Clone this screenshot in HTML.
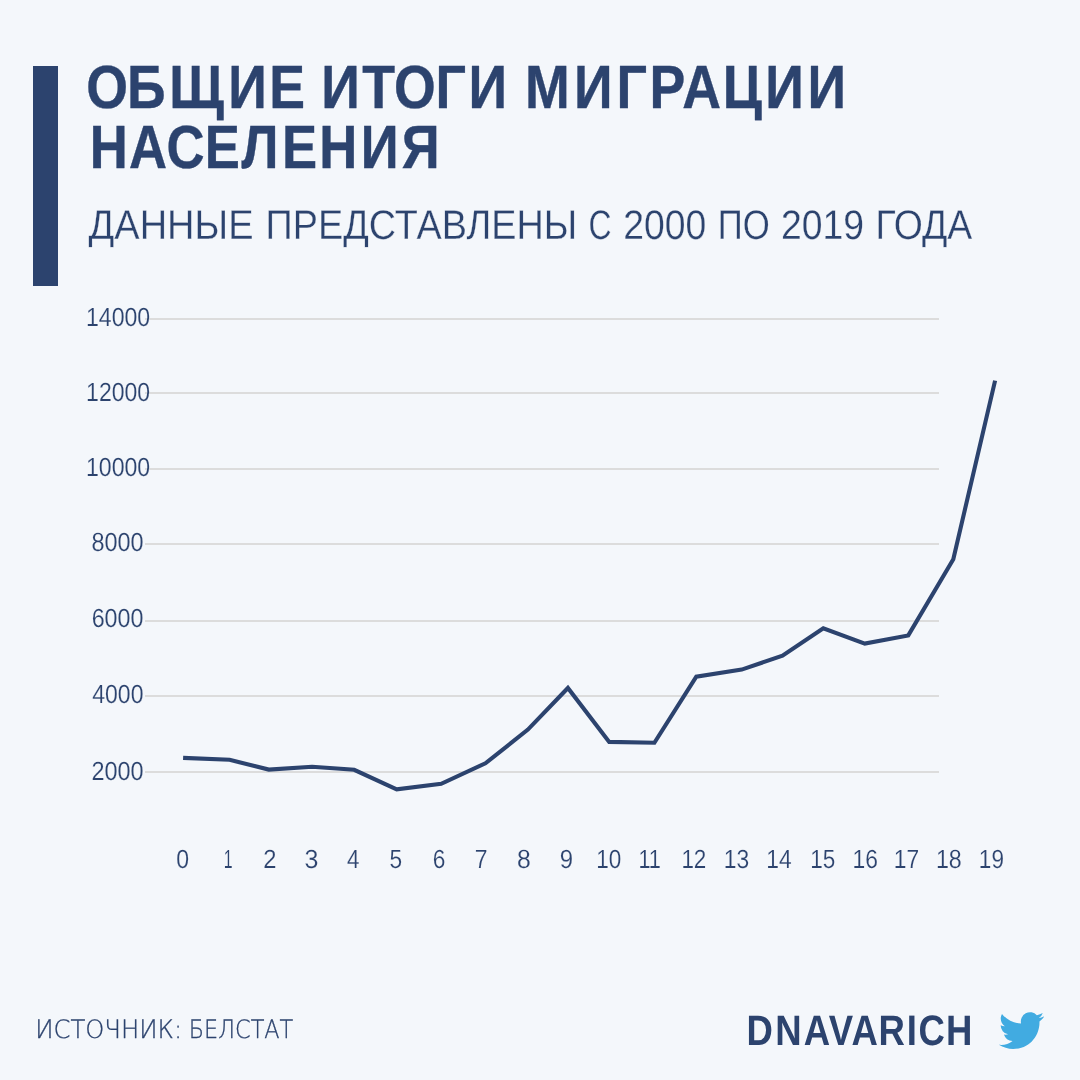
<!DOCTYPE html>
<html lang="ru">
<head>
<meta charset="utf-8">
<title>Общие итоги миграции населения</title>
<style>
  html, body { margin:0; padding:0; background:#f4f7fb; }
  body { width:1080px; height:1080px; overflow:hidden; }
  svg { display:block; will-change:transform; }
  text { font-family:"Liberation Sans", sans-serif; fill:#2c436e; text-rendering:geometricPrecision; }
  .t1 { font-weight:700; font-size:61.0px; stroke:#2c436e; stroke-width:0.4px; }
  .t2 { font-weight:400; font-size:41.3px; stroke:#f4f7fb; stroke-width:0.3px; }
  .ax { font-weight:400; font-size:26.3px; stroke:#f4f7fb; stroke-width:0.15px; }
  .src { font-family:"DejaVu Sans", "Liberation Sans", sans-serif; font-weight:200; font-size:25.4px; stroke:#2c436e; stroke-width:0.3px; }
  .brand { font-weight:700; font-size:42.7px; }
</style>
</head>
<body>
<svg width="1080" height="1080" viewBox="0 0 1080 1080">
  <rect x="0" y="0" width="1080" height="1080" fill="#f4f7fb"/>
  <rect x="33" y="66" width="25" height="220" fill="#2c436e"/>
  <text class="t1" y="108" transform="scale(0.8794,1)"><tspan x="98.21 144.40 192.37 259.65 306.08">ОБЩИЕ</tspan> <tspan x="365.24 411.94 448.00 495.15 532.80">ИТОГИ</tspan> <tspan x="597.13 652.65 701.20 738.62 775.68 821.83 870.14 918.12">МИГРАЦИИ</tspan></text>
  <text class="t1" y="168" transform="scale(0.8635,1)"><tspan x="103.94 149.54 192.86 237.19 279.73 326.48 369.73 417.78 465.38">НАСЕЛЕНИЯ</tspan></text>
  <text class="t2" y="238.9"><tspan x="88.58" textLength="164.95" lengthAdjust="spacingAndGlyphs">ДАННЫЕ</tspan> <tspan x="265.57" textLength="311.76" lengthAdjust="spacingAndGlyphs">ПРЕДСТАВЛЕНЫ</tspan> <tspan x="588.59" textLength="23.05" lengthAdjust="spacingAndGlyphs">С</tspan> <tspan x="623.27" textLength="82.97" lengthAdjust="spacingAndGlyphs">2000</tspan> <tspan x="717.71" textLength="52.06" lengthAdjust="spacingAndGlyphs">ПО</tspan> <tspan x="780.94" textLength="83.08" lengthAdjust="spacingAndGlyphs">2019</tspan> <tspan x="875.61" textLength="96.72" lengthAdjust="spacingAndGlyphs">ГОДА</tspan></text>
  <rect x="145" y="318" width="794" height="2" fill="#dcdcdc"/>
  <rect x="145" y="392" width="794" height="2" fill="#dcdcdc"/>
  <rect x="145" y="468" width="794" height="2" fill="#dcdcdc"/>
  <rect x="145" y="543" width="794" height="2" fill="#dcdcdc"/>
  <rect x="145" y="620" width="794" height="2" fill="#dcdcdc"/>
  <rect x="145" y="695" width="794" height="2" fill="#dcdcdc"/>
  <rect x="145" y="771" width="794" height="2" fill="#dcdcdc"/>
  <text class="ax" x="86.00" y="326.1" textLength="64.20" lengthAdjust="spacingAndGlyphs">14000</text>
  <text class="ax" x="86.11" y="400.8" textLength="64.02" lengthAdjust="spacingAndGlyphs">12000</text>
  <text class="ax" x="86.00" y="475.9" textLength="64.20" lengthAdjust="spacingAndGlyphs">10000</text>
  <text class="ax" x="91.45" y="551.1" textLength="52.15" lengthAdjust="spacingAndGlyphs">8000</text>
  <text class="ax" x="91.64" y="627.1" textLength="51.76" lengthAdjust="spacingAndGlyphs">6000</text>
  <text class="ax" x="92.28" y="703.1" textLength="51.17" lengthAdjust="spacingAndGlyphs">4000</text>
  <text class="ax" x="91.50" y="779.6" textLength="52.17" lengthAdjust="spacingAndGlyphs">2000</text>
  <text class="ax" x="176.37" y="868.3" textLength="12.83" lengthAdjust="spacingAndGlyphs">0</text>
  <text class="ax" x="223.63" y="868.3" textLength="8.83" lengthAdjust="spacingAndGlyphs">1</text>
  <text class="ax" x="263.19" y="868.3" textLength="13.22" lengthAdjust="spacingAndGlyphs">2</text>
  <text class="ax" x="304.46" y="868.3" textLength="13.93" lengthAdjust="spacingAndGlyphs">3</text>
  <text class="ax" x="346.89" y="868.3" textLength="12.40" lengthAdjust="spacingAndGlyphs">4</text>
  <text class="ax" x="389.53" y="868.3" textLength="12.64" lengthAdjust="spacingAndGlyphs">5</text>
  <text class="ax" x="432.80" y="868.3" textLength="12.63" lengthAdjust="spacingAndGlyphs">6</text>
  <text class="ax" x="474.84" y="868.3" textLength="12.78" lengthAdjust="spacingAndGlyphs">7</text>
  <text class="ax" x="516.96" y="868.3" textLength="13.78" lengthAdjust="spacingAndGlyphs">8</text>
  <text class="ax" x="559.78" y="868.3" textLength="13.34" lengthAdjust="spacingAndGlyphs">9</text>
  <text class="ax" x="596.17" y="868.3" textLength="25.03" lengthAdjust="spacingAndGlyphs">10</text>
  <text class="ax" x="638.42" y="868.3" textLength="22.49" lengthAdjust="spacingAndGlyphs">11</text>
  <text class="ax" x="681.40" y="868.3" textLength="24.94" lengthAdjust="spacingAndGlyphs">12</text>
  <text class="ax" x="723.83" y="868.3" textLength="25.43" lengthAdjust="spacingAndGlyphs">13</text>
  <text class="ax" x="766.32" y="868.3" textLength="25.42" lengthAdjust="spacingAndGlyphs">14</text>
  <text class="ax" x="810.32" y="868.3" textLength="25.05" lengthAdjust="spacingAndGlyphs">15</text>
  <text class="ax" x="852.49" y="868.3" textLength="25.45" lengthAdjust="spacingAndGlyphs">16</text>
  <text class="ax" x="893.79" y="868.3" textLength="25.38" lengthAdjust="spacingAndGlyphs">17</text>
  <text class="ax" x="935.96" y="868.3" textLength="25.83" lengthAdjust="spacingAndGlyphs">18</text>
  <text class="ax" x="978.85" y="868.3" textLength="25.12" lengthAdjust="spacingAndGlyphs">19</text>
  <polyline points="183.1,757.9 229.6,759.8 268.8,769.6 312.1,766.8 354.2,769.8 396.7,789.3 441.2,783.8 485.4,763.3 527.9,729.6 567.9,688.0 609.2,741.9 654.4,742.8 696.3,676.7 741.7,669.6 782.5,655.7 823.3,628.3 864.8,643.6 908.3,635.4 953.3,559.2 995.1,380.6" fill="none" stroke="#2c436e" stroke-width="4.1" stroke-linejoin="miter" stroke-linecap="butt"/>
  <text class="src" y="1037.8"><tspan x="35.21" textLength="146.88" lengthAdjust="spacingAndGlyphs">ИСТОЧНИК:</tspan> <tspan x="188.72" textLength="104.57" lengthAdjust="spacingAndGlyphs">БЕЛСТАТ</tspan></text>
  <text class="brand" y="1045" transform="scale(0.8552,1)"><tspan x="873.03 906.55 939.90 968.99 995.73 1027.22 1060.20 1074.05 1106.15">DNAVARICH</tspan></text>
  <g transform="translate(998.9,1008) scale(1.883)">
    <path fill="#41abe1" d="M23.953 4.57a10 10 0 01-2.825.775 4.958 4.958 0 002.163-2.723c-.951.555-2.005.959-3.127 1.184a4.92 4.92 0 00-8.384 4.482C7.69 8.095 4.067 6.13 1.64 3.162a4.822 4.822 0 00-.666 2.475c0 1.71.87 3.213 2.188 4.096a4.904 4.904 0 01-2.228-.616v.06a4.923 4.923 0 003.946 4.827 4.996 4.996 0 01-2.212.085 4.936 4.936 0 004.604 3.417 9.867 9.867 0 01-6.102 2.105c-.39 0-.779-.023-1.17-.067a13.995 13.995 0 007.557 2.209c9.053 0 13.998-7.496 13.998-13.985 0-.21 0-.42-.015-.63A9.935 9.935 0 0024 4.59z"/>
  </g>
</svg>
</body>
</html>
